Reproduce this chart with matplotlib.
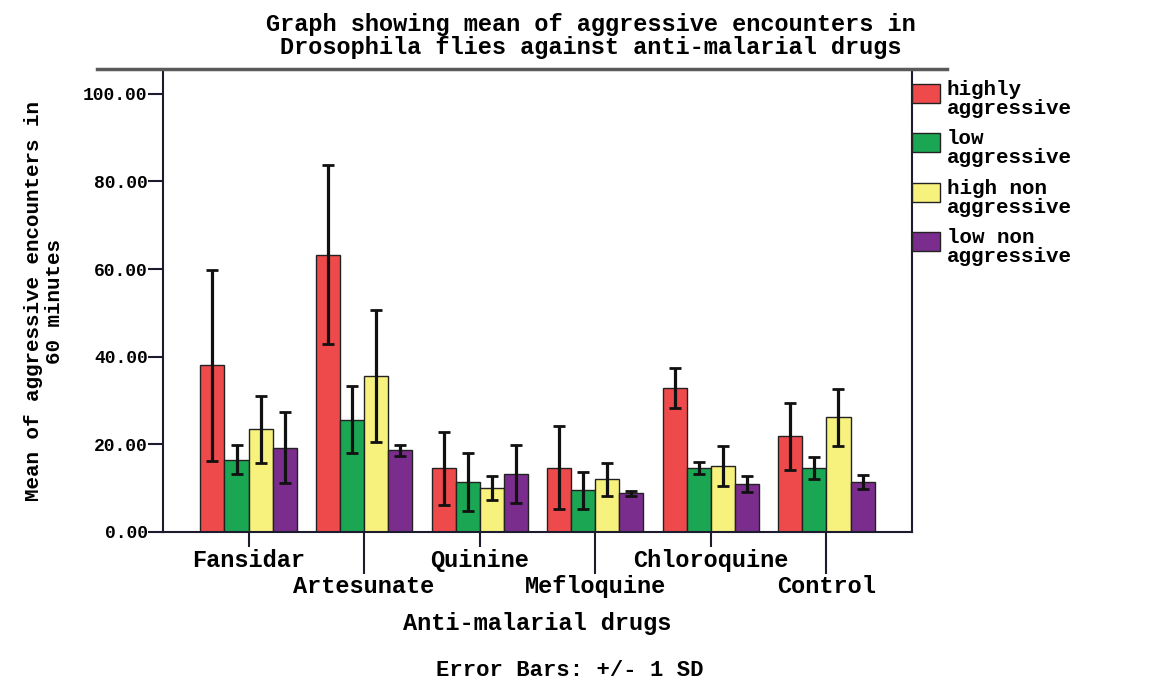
import matplotlib.pyplot as plt
import numpy as np
from matplotlib.lines import Line2D
from matplotlib.patches import Rectangle
from matplotlib.ticker import FormatStrFormatter

# Drugs on the x axis and the four behaviour groups.
drugs = ['Fansidar', 'Artesunate', 'Quinine', 'Mefloquine', 'Chloroquine', 'Control']
groups = ['highly\naggressive', 'low\naggressive', 'high non\naggressive', 'low non\naggressive']
colors = ['#EE4A4C', '#1BA653', '#F7F27E', '#7B2D8E']

# Means.
highly_mean = [38.0, 63.3, 14.5, 14.7, 32.9, 21.8]
low_mean = [16.5, 25.6, 11.4, 9.5, 14.6, 14.6]
high_non_mean = [23.4, 35.6, 10.0, 12.0, 15.1, 26.2]
low_non_mean = [19.2, 18.6, 13.2, 8.8, 11.0, 11.4]

# +/- 1 SD.
highly_sd = [21.7, 20.4, 8.4, 9.5, 4.6, 7.7]
low_sd = [3.3, 7.6, 6.7, 4.3, 1.3, 2.4]
high_non_sd = [7.6, 15.1, 2.8, 3.7, 4.6, 6.5]
low_non_sd = [8.1, 1.3, 6.6, 0.6, 1.8, 1.7]

means = [highly_mean, low_mean, high_non_mean, low_non_mean]
sds = [highly_sd, low_sd, high_non_sd, low_non_sd]

plt.rcParams['font.family'] = 'Liberation Mono'
plt.rcParams['font.weight'] = 'bold'
plt.rcParams['axes.labelweight'] = 'bold'
axis_col = '#1c1c2e'

W, H = 1151, 686
fig = plt.figure(figsize=(W / 100, H / 100), dpi=100)
ax = fig.add_axes([163 / W, 1 - 532 / H, (912 - 163) / W, (532 - 70) / H])

x = np.arange(len(drugs))
w = 0.208
for i in range(len(groups)):
    ax.bar(x + (i - 1.5) * w, means[i], w, color=colors[i],
           edgecolor='#222222', linewidth=1.0, yerr=sds[i],
           error_kw=dict(ecolor='#111111', elinewidth=2.3, capsize=4.5, capthick=2))

ax.set_xlim(-0.74, 5.74)
ax.set_ylim(0, 105.4)

# Staggered drug labels: short ticks for the first row, long for the second.
ax.set_xticks(x[0::2], drugs[0::2])
ax.set_xticks(x[1::2], drugs[1::2], minor=True)
ax.tick_params(axis='x', which='major', length=11, width=1.5, pad=1,
               labelsize=17, color=axis_col)
ax.tick_params(axis='x', which='minor', length=30, width=1.5, pad=1,
               labelsize=17, color=axis_col)

ax.set_yticks(np.arange(0, 101, 20))
ax.yaxis.set_major_formatter(FormatStrFormatter('%.2f'))
ax.tick_params(axis='y', length=11, width=1.5, pad=0, labelsize=13, color=axis_col)

ax.spines['top'].set_visible(False)
for side in ['left', 'right', 'bottom']:
    ax.spines[side].set_color(axis_col)
    ax.spines[side].set_linewidth(1.5)

ax.set_ylabel('Mean of aggressive encounters in\n60 minutes', fontsize=15,
              labelpad=14, linespacing=1.1)
ax.set_xlabel('Anti-malarial drugs', fontsize=17, labelpad=10)

# Title and its underline.
fig.text(591 / W, 1 - 36 / H,
         'Graph showing mean of aggressive encounters in\n'
         'Drosophila flies against anti-malarial drugs',
         ha='center', va='center', fontsize=17, linespacing=1.0)
fig.add_artist(Line2D([97 / W, 947 / W], [1 - 69 / H, 1 - 69 / H],
                      color='#5a5a5a', lw=2.5))

# Legend to the right of the plot.
for i in range(len(groups)):
    top = 84 + i * 49.3
    fig.add_artist(Rectangle((912 / W, 1 - (top + 19) / H), 28 / W, 19 / H,
                             transform=fig.transFigure, facecolor=colors[i],
                             edgecolor='#222222', lw=1.0))
    fig.text(947 / W, 1 - (top - 4) / H, groups[i], ha='left', va='top',
             fontsize=15, linespacing=1.0)

fig.text(570 / W, 1 - 670 / H, 'Error Bars: +/- 1 SD', ha='center',
         va='center', fontsize=16)

fig.savefig('out.png', dpi=100)
